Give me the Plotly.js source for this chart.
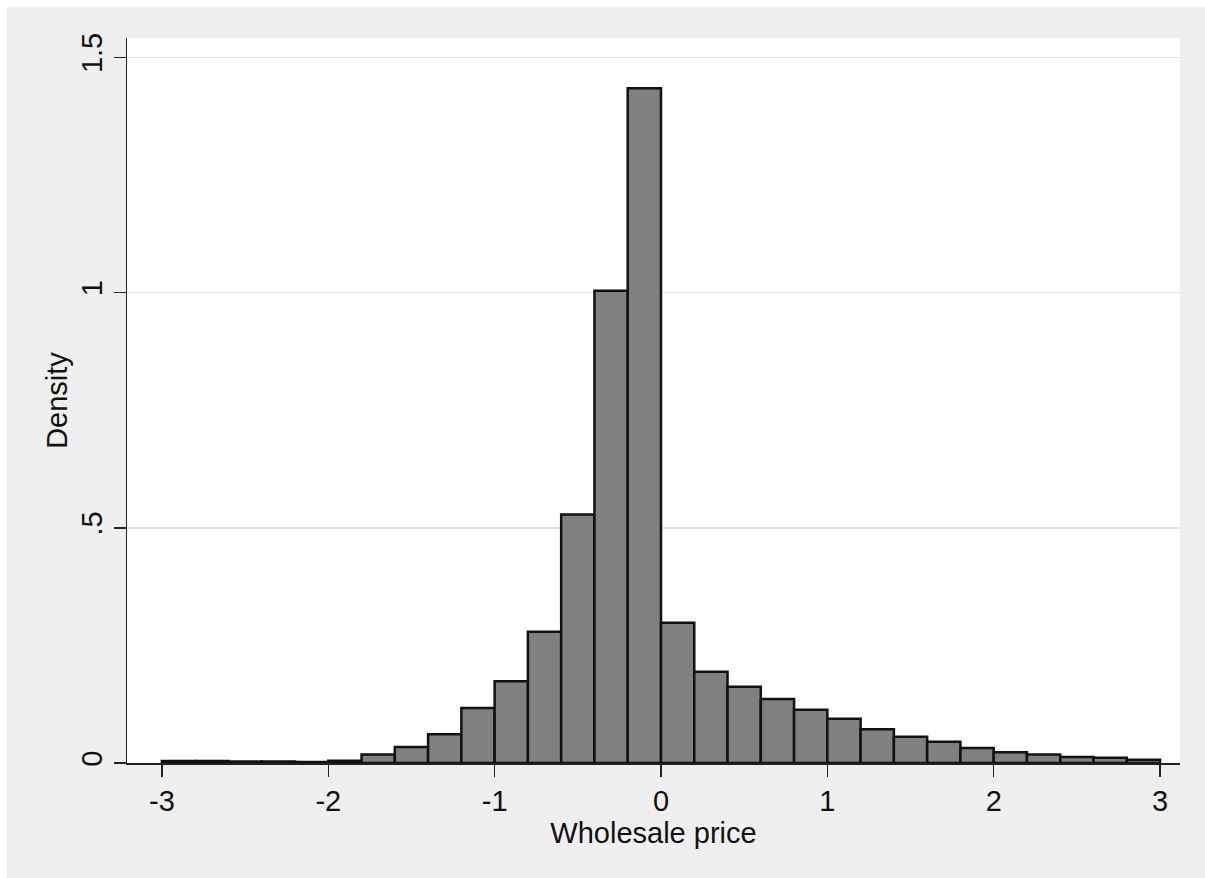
<!DOCTYPE html>
<html>
<head>
<meta charset="utf-8">
<script src="https://cdn.plot.ly/plotly-3.0.1.min.js"></script>
<style>
  html, body { margin: 0; padding: 0; background: #efefef; overflow: hidden; }
  #chart { position: absolute; left: 0; top: 0; width: 1205px; height: 878px; }
  .strip { position: absolute; background: #ffffff; z-index: 10; }
</style>
</head>
<body>
<div id="chart"></div>
<div class="strip" style="left:0;top:0;width:1205px;height:7px;"></div>
<div class="strip" style="left:0;top:0;width:7px;height:878px;"></div>
<script>
// Bin centers (bin width 0.2) and densities
const binCenters = [-2.9, -2.7, -2.5, -2.3, -2.1, -1.9, -1.7, -1.5, -1.3, -1.1,
                    -0.9, -0.7, -0.5, -0.3, -0.1, 0.1, 0.3, 0.5, 0.7, 0.9,
                    1.1, 1.3, 1.5, 1.7, 1.9, 2.1, 2.3, 2.5, 2.7, 2.9];
const densities = [0.004, 0.004, 0.003, 0.003, 0.002, 0.005, 0.018, 0.034, 0.061, 0.117,
                   0.174, 0.279, 0.528, 1.004, 1.434, 0.298, 0.194, 0.162, 0.136, 0.113,
                   0.094, 0.072, 0.056, 0.045, 0.032, 0.023, 0.018, 0.013, 0.011, 0.007];
const binWidth = 0.2;

const xTickVals = [-3, -2, -1, 0, 1, 2, 3];
const xTickText = ["-3", "-2", "-1", "0", "1", "2", "3"];
const yTickVals = [0, 0.5, 1, 1.5];
const yTickText = ["0", ".5", "1", "1.5"];

const xTitle = "Wholesale price";
const yTitle = "Density";

const font = { family: "Liberation Sans, Arial, sans-serif", size: 29, color: "#111111" };

const trace = {
  type: "bar",
  x: binCenters,
  y: densities,
  width: binCenters.map(() => binWidth),
  marker: { color: "#808080", line: { color: "#111111", width: 2.5 } },
  hoverinfo: "x+y"
};

const layout = {
  width: 1205,
  height: 878,
  paper_bgcolor: "#efefef",
  plot_bgcolor: "#ffffff",
  margin: { l: 127, r: 25, t: 38, b: 115 },
  showlegend: false,
  font: font,
  bargap: 0,
  xaxis: {
    range: [-3.21, 3.12],
    tickvals: xTickVals,
    ticktext: xTickText,
    ticks: "outside",
    ticklen: 12,
    tickwidth: 1.5,
    tickcolor: "#222222",
    showline: true,
    linecolor: "#222222",
    linewidth: 1.5,
    showgrid: false,
    zeroline: false,
    tickfont: font,
    title: { text: xTitle, font: font, standoff: 0 },
    automargin: false
  },
  yaxis: {
    range: [0, 1.541],
    tickvals: yTickVals,
    ticktext: yTickText,
    tickangle: -90,
    ticks: "outside",
    ticklen: 12,
    tickwidth: 1.5,
    tickcolor: "#222222",
    showline: true,
    linecolor: "#222222",
    linewidth: 1.5,
    showgrid: true,
    gridcolor: "#e0e3e3",
    gridwidth: 1.5,
    zeroline: false,
    tickfont: font,
    title: { text: yTitle, font: font, standoff: 0 },
    automargin: false
  }
};

Plotly.newPlot("chart", [trace], layout, { staticPlot: true, displayModeBar: false });
</script>
</body>
</html>
